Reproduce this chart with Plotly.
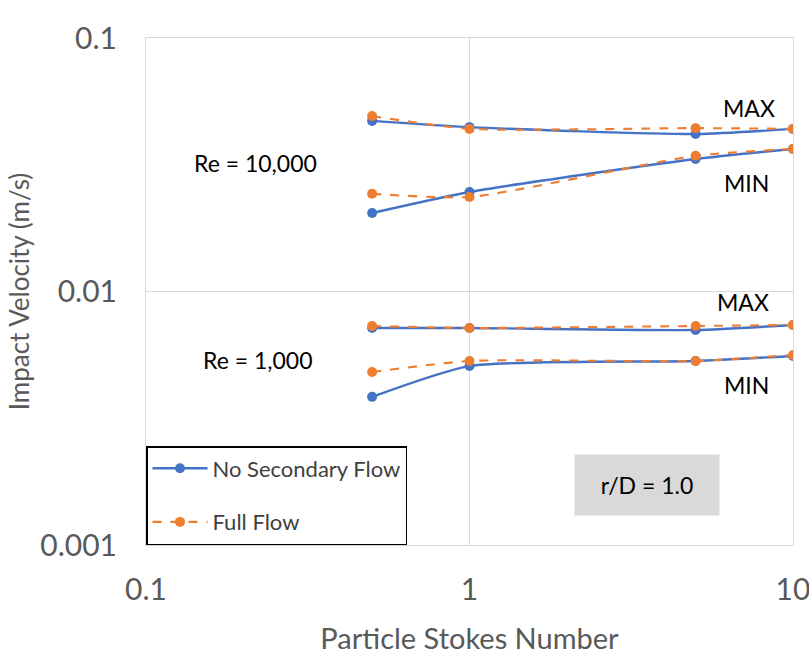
import plotly.graph_objects as go

stokes = [0.5, 1, 5, 10]

# Re = 10,000
re10k_max_nosec = [0.0471, 0.0445, 0.0418, 0.0438]
re10k_max_full = [0.0492, 0.0438, 0.0441, 0.0438]
re10k_min_nosec = [0.0204, 0.0247, 0.0333, 0.0365]
re10k_min_full = [0.0243, 0.0236, 0.0343, 0.0365]

# Re = 1,000
re1k_max_nosec = [0.00718, 0.00718, 0.00705, 0.00738]
re1k_max_full = [0.00731, 0.00718, 0.00731, 0.00738]
re1k_min_nosec = [0.00384, 0.00508, 0.00532, 0.00557]
re1k_min_full = [0.00481, 0.00532, 0.00532, 0.00562]

x_ticks = [0.1, 1, 10]
x_tick_labels = ["0.1", "1", "10"]
y_ticks = [0.001, 0.01, 0.1]
y_tick_labels = ["0.001", "0.01", "0.1"]

BLUE = "#4472C4"
ORANGE = "#ED7D31"
FONT = "Lato"

fig = go.Figure()

series = [
    (re10k_max_nosec, "nosec", True),
    (re10k_min_nosec, "nosec", False),
    (re1k_max_nosec, "nosec", False),
    (re1k_min_nosec, "nosec", False),
    (re10k_max_full, "full", True),
    (re10k_min_full, "full", False),
    (re1k_max_full, "full", False),
    (re1k_min_full, "full", False),
]

for vals, kind, show in series:
    if kind == "nosec":
        fig.add_trace(go.Scatter(
            x=stokes, y=vals, mode="lines+markers",
            name="No Secondary Flow", legendgroup="nosec", showlegend=show,
            line=dict(color=BLUE, width=2.4, shape="spline", smoothing=0.6),
            marker=dict(color=BLUE, size=10),
        ))
    else:
        fig.add_trace(go.Scatter(
            x=stokes, y=vals, mode="lines+markers",
            name="Full Flow", legendgroup="full", showlegend=show,
            line=dict(color=ORANGE, width=2.1, dash="dash", shape="spline", smoothing=0.6),
            marker=dict(color=ORANGE, size=10),
        ))

L, R, T, B = 146, 793, 38, 545
W, H = 809, 655

def px(xp):
    return (xp - L) / (R - L)

def py(yp):
    return (B - yp) / (B - T)

ann = [
    ("Re = 10,000", 255, 163),
    ("MAX", 749, 108),
    ("MIN", 746, 183),
    ("Re = 1,000", 258, 360),
    ("MAX", 743, 302),
    ("MIN", 746, 385),
]
for text, xp, yp in ann:
    fig.add_annotation(x=px(xp), y=py(yp), xref="paper", yref="paper",
                       xanchor="center", yanchor="middle",
                       text=text, showarrow=False,
                       font=dict(family=FONT, size=23, color="black"))

fig.add_annotation(x=px(647), y=py(485), xref="paper", yref="paper",
                   xanchor="center", yanchor="middle",
                   text="r/D = 1.0", showarrow=False,
                   font=dict(family=FONT, size=23, color="black"),
                   bgcolor="#D9D9D9", width=136, height=52, borderpad=4)

fig.update_layout(
    width=W, height=H,
    margin=dict(l=L, r=W - R, t=T, b=H - B),
    paper_bgcolor="white", plot_bgcolor="white",
    font=dict(family=FONT, size=22, color="#595959"),
    legend=dict(x=0, y=0, xanchor="left", yanchor="bottom",
                bordercolor="black", borderwidth=1.5, bgcolor="white",
                font=dict(family=FONT, size=22, color="#404040"),
                tracegroupgap=22, itemwidth=55),
    xaxis=dict(type="log", range=[-1, 1], tickvals=x_ticks, ticktext=x_tick_labels,
               tickfont=dict(family=FONT, size=30, color="#595959"),
               showgrid=True, gridcolor="#D9D9D9", gridwidth=1,
               showline=True, linecolor="#D9D9D9", mirror=True, ticks="",
               zeroline=False, ticklabelstandoff=18, automargin=False,
               ticklabeloverflow="allow",
               title=dict(text="Particle Stokes Number", standoff=25,
                          font=dict(family=FONT, size=29, color="#595959"))),
    yaxis=dict(type="log", range=[-3, -1], tickvals=y_ticks, ticktext=y_tick_labels,
               tickfont=dict(family=FONT, size=30, color="#595959"),
               showgrid=True, gridcolor="#D9D9D9", gridwidth=1,
               showline=True, linecolor="#D9D9D9", mirror=True, ticks="",
               zeroline=False, ticklabelstandoff=22, automargin=True,
               ticklabeloverflow="allow",
               title=dict(text="Impact Velocity (m/s)", standoff=3,
                          font=dict(family=FONT, size=26, color="#595959"))),
)

fig.write_html("out.html",
               config={"displayModeBar": False},
               post_script="document.body.style.margin='0';document.body.style.overflow='hidden';")
